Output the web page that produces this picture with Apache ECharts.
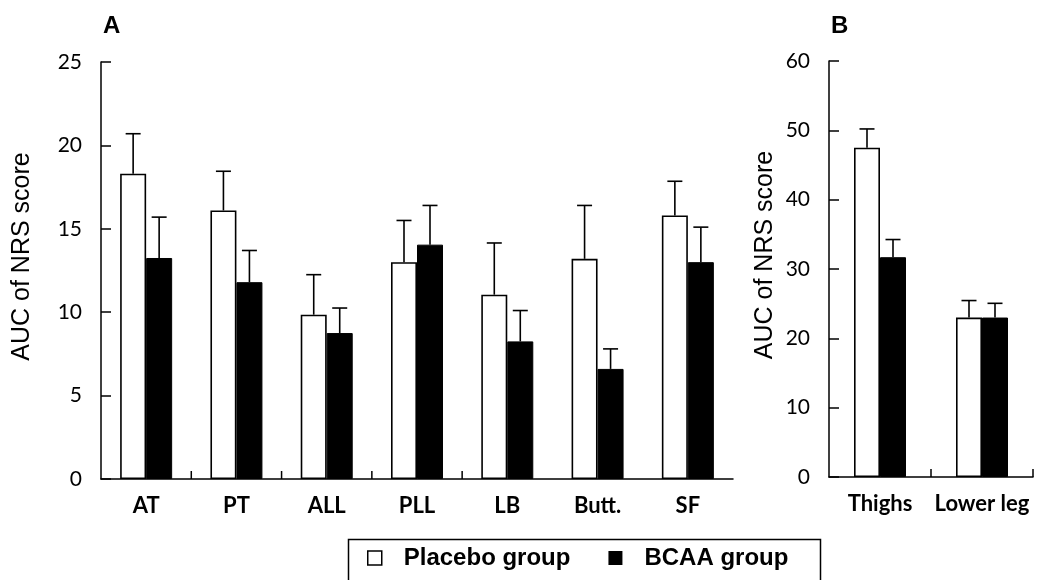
<!DOCTYPE html>
<html>
<head>
<meta charset="utf-8">
<script src="https://cdn.jsdelivr.net/npm/echarts@6/dist/echarts.min.js"></script>
<style>html,body{margin:0;padding:0;background:#fff;}#c{width:1047px;height:580px;}</style>
</head>
<body>
<div id="c"></div>
<script>
// Panel A
const categoriesA = ['AT', 'PT', 'ALL', 'PLL', 'LB', 'Butt.', 'SF'];
const placeboA = [18.3, 16.1, 9.85, 13.0, 11.05, 13.2, 15.8];
const placeboAErr = [2.4, 2.35, 2.4, 2.5, 3.1, 3.2, 2.05];
const bcaaA = [13.25, 11.8, 8.75, 14.05, 8.25, 6.6, 13.0];
const bcaaAErr = [2.45, 1.9, 1.5, 2.35, 1.85, 1.2, 2.1];
const yTicksA = {min: 0, max: 25, interval: 5};
// x-axis tick marks drawn in the reference: [category index, side (-1 left / +1 right boundary)]
const xTickMarksA = [[1, -1], [2, -1], [3, -1], [4, -1]];
// Panel B
const categoriesB = ['Thighs', 'Lower leg'];
const placeboB = [47.5, 23.0];
const placeboBErr = [2.7, 2.45];
const bcaaB = [31.7, 23.0];
const bcaaBErr = [2.55, 2.05];
const yTicksB = {min: 0, max: 60, interval: 10};
const xTickMarksB = [[1, -1], [1, 1]];
const seriesNames = ['Placebo group', 'BCAA group'];
const yName = 'AUC of NRS score';

const chart = echarts.init(document.getElementById('c'), null, {renderer: 'canvas'});

const BAR_W = 26;
function errSeries(gridIdx, vals, errs, offset) {
  return {
    type: 'custom',
    xAxisIndex: gridIdx, yAxisIndex: gridIdx,
    z: 5, silent: true, clip: false,
    data: vals.map((v, i) => [i, v, errs[i]]),
    renderItem: function (params, api) {
      const base = api.coord([api.value(0), api.value(1)]);
      const top = api.coord([api.value(0), api.value(1) + api.value(2)]);
      const x = base[0] + offset;
      const cap = 7.5;
      return {
        type: 'group',
        children: [
          {type: 'line', shape: {x1: x, y1: base[1], x2: x, y2: top[1]}, style: {stroke: '#000', lineWidth: 1.6}},
          {type: 'line', shape: {x1: x - cap, y1: top[1], x2: x + cap, y2: top[1]}, style: {stroke: '#000', lineWidth: 1.6}}
        ]
      };
    }
  };
}
function tickSeries(gridIdx, marks) {
  return {
    type: 'custom',
    xAxisIndex: gridIdx, yAxisIndex: gridIdx,
    z: 6, silent: true, clip: false,
    data: marks,
    renderItem: function (params, api) {
      const p = api.coord([api.value(0), 0]);
      const band = api.size([1, 0])[0];
      const x = p[0] + api.value(1) * band / 2;
      return {type: 'line', shape: {x1: x, y1: p[1], x2: x, y2: p[1] - 8}, style: {stroke: '#000', lineWidth: 1.5}};
    }
  };
}

function yAxis(gridIdx, t, gap) {
  return {
    type: 'value', gridIndex: gridIdx, min: t.min, max: t.max, interval: t.interval,
    name: yName, nameLocation: 'middle', nameGap: gap, nameRotate: 90,
    nameTextStyle: {color: '#000', fontFamily: 'Liberation Sans', fontSize: 25, padding: [0, 0, 0, 28]},
    axisLine: {show: true, lineStyle: {color: '#000', width: 1.5}},
    axisTick: {show: true, inside: true, length: 10, lineStyle: {color: '#000', width: 1.5}},
    axisLabel: {margin: 19, color: '#000', fontFamily: 'Lato', fontSize: 21},
    splitLine: {show: false}
  };
}
function xAxis(gridIdx, cats) {
  return {
    type: 'category', gridIndex: gridIdx, data: cats, boundaryGap: true,
    axisLine: {show: true, lineStyle: {color: '#000', width: 1.5}},
    axisTick: {show: false},
    axisLabel: {color: '#000', fontFamily: 'Lato', fontWeight: 'bold', fontSize: 22, margin: 16, interval: 0},
    splitLine: {show: false}
  };
}
function barSeries(gridIdx, name, vals, fill) {
  return {
    type: 'bar', name: name, xAxisIndex: gridIdx, yAxisIndex: gridIdx,
    data: vals, barWidth: BAR_W, barGap: '0%',
    itemStyle: fill ? {color: '#000', borderColor: '#000', borderWidth: 1} : {color: '#fff', borderColor: '#000', borderWidth: 1.6},
    emphasis: {disabled: true}
  };
}

chart.setOption({
  animation: false,
  backgroundColor: '#fff',
  title: [
    {text: 'A', left: 103, top: 14, padding: 0, textStyle: {fontFamily: 'Liberation Sans', fontWeight: 'bold', fontSize: 24, color: '#000'}},
    {text: 'B', left: 831, top: 14, padding: 0, textStyle: {fontFamily: 'Liberation Sans', fontWeight: 'bold', fontSize: 24, color: '#000'}}
  ],
  grid: [
    {left: 101, top: 62, width: 632, height: 417},
    {left: 829, top: 61, width: 204, height: 416}
  ],
  xAxis: [xAxis(0, categoriesA), xAxis(1, categoriesB)],
  yAxis: [yAxis(0, yTicksA, 66), yAxis(1, yTicksB, 51)],
  legend: {
    left: 367, top: 546, padding: 0, itemWidth: 14, itemHeight: 14, itemGap: 38, icon: 'rect',
    selectedMode: false,
    textStyle: {fontFamily: 'Liberation Sans', fontWeight: 'bold', fontSize: 24, color: '#000', padding: [0, 0, 0, 17]},
    data: [
      {name: seriesNames[0], itemStyle: {color: '#fff', borderColor: '#000', borderWidth: 1.5}},
      {name: seriesNames[1], itemStyle: {color: '#000', borderWidth: 0}}
    ]
  },
  graphic: [
    {type: 'rect', left: 346, top: 537, shape: {width: 472, height: 60}, style: {fill: 'none', stroke: '#000', lineWidth: 1.5}, silent: true}
  ],
  series: [
    barSeries(0, seriesNames[0], placeboA, false),
    barSeries(0, seriesNames[1], bcaaA, true),
    errSeries(0, placeboA, placeboAErr, -BAR_W / 2),
    errSeries(0, bcaaA, bcaaAErr, BAR_W / 2),
    tickSeries(0, xTickMarksA),
    barSeries(1, seriesNames[0], placeboB, false),
    barSeries(1, seriesNames[1], bcaaB, true),
    errSeries(1, placeboB, placeboBErr, -BAR_W / 2),
    errSeries(1, bcaaB, bcaaBErr, BAR_W / 2),
    tickSeries(1, xTickMarksB)
  ]
});
</script>
</body>
</html>
